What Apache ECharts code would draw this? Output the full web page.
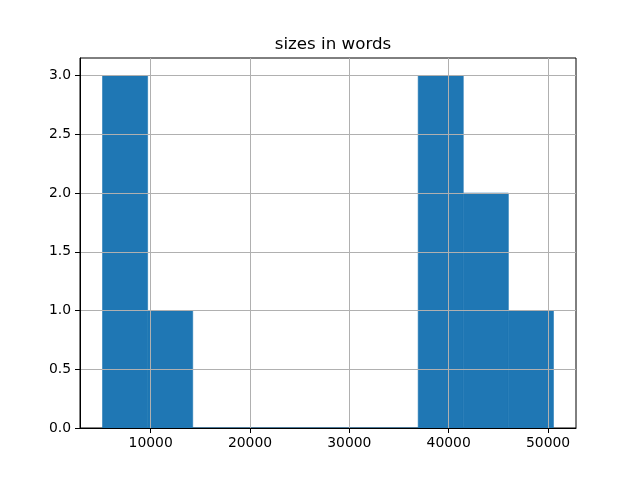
<!DOCTYPE html>
<html>
<head>
<meta charset="utf-8">
<script src="https://cdn.jsdelivr.net/npm/echarts@6/dist/echarts.min.js"></script>
<style>html,body{margin:0;padding:0;background:#fff}#c{width:640px;height:480px}</style>
</head>
<body>
<div id="c"></div>
<script>
// Histogram bins
var binStarts = [5156, 9695, 14234, 18773, 23312, 27851, 32390, 36929, 41468, 46007];
var binEnds   = [9695, 14234, 18773, 23312, 27851, 32390, 36929, 41468, 46007, 50545];
var counts    = [3, 1, 0, 0, 0, 0, 0, 3, 2, 1];
var xTicks = [10000, 20000, 30000, 40000, 50000];
var yTicks = [0, 0.5, 1.0, 1.5, 2.0, 2.5, 3.0];
var titleText = 'sizes in words';

var data = binStarts.map(function (s, i) { return [s, binEnds[i], counts[i]]; });

var font = 'DejaVu Sans';
var chart = echarts.init(document.getElementById('c'), null, {renderer: 'canvas'});
chart.setOption({
  animation: false,
  backgroundColor: '#fff',
  title: {
    text: titleText,
    left: 328, top: 31, textAlign: 'center',
    textStyle: {fontFamily: font, fontSize: 16.7, fontWeight: 'normal', color: '#000'}
  },
  grid: {left: 80, right: 64, top: 58, bottom: 52, show: true, borderColor: '#000', borderWidth: 1, backgroundColor: 'transparent'},
  xAxis: {
    type: 'value', min: 2887, max: 52814, z: 3,
    axisLine: {show: true, lineStyle: {color: '#000', width: 1}},
    axisTick: {show: true, length: 5, lineStyle: {color: '#000'}, customValues: xTicks},
    axisLabel: {color: '#000', fontFamily: font, fontSize: 13.9, margin: 8, customValues: xTicks,
      formatter: function (v) { return String(v); }},
    splitLine: {show: true, lineStyle: {color: '#b0b0b0', width: 1}}
  },
  yAxis: {
    type: 'value', min: 0, max: 3.15, z: 3,
    axisLine: {show: true, lineStyle: {color: '#000', width: 1}},
    axisTick: {show: true, length: 5, lineStyle: {color: '#000'}, customValues: yTicks},
    axisLabel: {color: '#000', fontFamily: font, fontSize: 13.9, margin: 9, customValues: yTicks,
      formatter: function (v) { return Number(v).toFixed(1); }},
    splitLine: {show: true, lineStyle: {color: '#b0b0b0', width: 1}}
  },
  series: [{
    type: 'custom', z: 1,
    renderItem: function (params, api) {
      var p0 = api.coord([api.value(0), 0]);
      var p1 = api.coord([api.value(1), api.value(2)]);
      return {type: 'rect', shape: {x: p0[0], y: p1[1], width: p1[0] - p0[0], height: p0[1] - p1[1]},
        style: {fill: '#1f77b4', stroke: '#1f77b4', lineWidth: 0.6}};
    },
    encode: {x: [0, 1], y: 2},
    data: data
  }]
});
</script>
</body>
</html>
